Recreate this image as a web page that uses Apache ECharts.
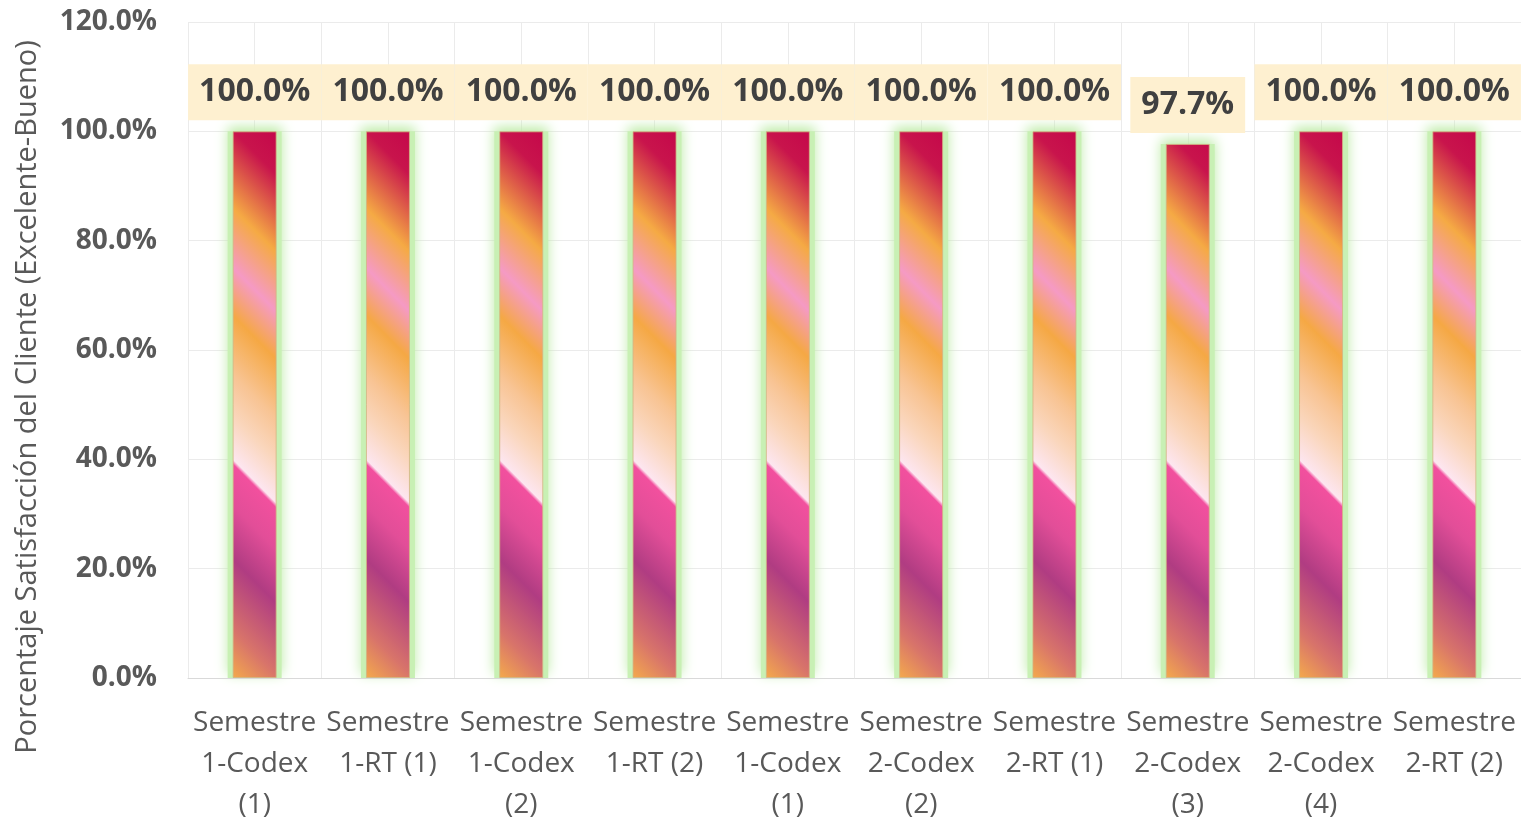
<!DOCTYPE html>
<html>
<head>
<meta charset="utf-8">
<script src="https://cdn.jsdelivr.net/npm/echarts@6/dist/echarts.min.js"></script>
<style>
html,body{margin:0;padding:0;background:#fff;overflow:hidden;}
#chart{width:1521px;height:826px;}
</style>
</head>
<body>
<div id="chart"></div>
<script>
const categories = [
  "Semestre\n1-Codex\n(1)",
  "Semestre\n1-RT (1)",
  "Semestre\n1-Codex\n(2)",
  "Semestre\n1-RT (2)",
  "Semestre\n1-Codex\n(1)",
  "Semestre\n2-Codex\n(2)",
  "Semestre\n2-RT (1)",
  "Semestre\n2-Codex\n(3)",
  "Semestre\n2-Codex\n(4)",
  "Semestre\n2-RT (2)"
];
const satisfaction = [100, 100, 100, 100, 100, 100, 100, 97.7, 100, 100];
const yTicks = { min: 0, max: 120, interval: 20 };
const yAxisTitle = "Porcentaje Satisfacción del Cliente (Excelente-Bueno)";

const FONT = "'Open Sans', 'Noto Sans', sans-serif";

// diagonal (~45°) gradient over a tall bar
const barGradient = new echarts.graphic.LinearGradient(0, 1, 6.76, 0.46, [
  { offset: 0.00, color: '#F4AA4C' },
  { offset: 0.08, color: '#D8746A' },
  { offset: 0.20, color: '#B03C82' },
  { offset: 0.29, color: '#E24E98' },
  { offset: 0.360, color: '#F2509E' },
  { offset: 0.368, color: '#FDE6F0' },
  { offset: 0.44, color: '#FAD6BC' },
  { offset: 0.51, color: '#F8C494' },
  { offset: 0.61, color: '#F5A844' },
  { offset: 0.69, color: '#F59AC4' },
  { offset: 0.79, color: '#F5AA44' },
  { offset: 0.92, color: '#C8144C' },
  { offset: 1.00, color: '#C4064A' }
]);

const chart = echarts.init(document.getElementById('chart'), null, { renderer: 'canvas' });
chart.setOption({
  animation: false,
  backgroundColor: '#ffffff',
  grid: { left: 188, width: 1333, top: 22, height: 662, containLabel: false },
  xAxis: [
    {
      type: 'category',
      data: categories,
      boundaryGap: true,
      axisLine: { show: true, lineStyle: { color: '#D9D9D9', width: 1 } },
      axisTick: { show: false },
      splitLine: { show: false },
      axisLabel: {
        interval: 0,
        hideOverlap: false,
        margin: 25,
        color: '#595959',
        fontFamily: FONT,
        fontSize: 28,
        lineHeight: 41,
        align: 'center'
      },
      z: 5
    },
    {
      type: 'value',
      min: 0, max: 20, interval: 1,
      position: 'bottom',
      axisLine: { show: false },
      axisTick: { show: false },
      axisLabel: { show: false },
      splitLine: { show: true, lineStyle: { color: '#EBEBEB', width: 1 } }
    },
    {
      type: 'category',
      data: categories,
      boundaryGap: true,
      show: false
    }
  ],
  yAxis: {
    type: 'value',
    min: yTicks.min, max: yTicks.max, interval: yTicks.interval,
    axisLine: { show: false },
    axisTick: { show: false },
    splitLine: { show: true, lineStyle: { color: '#EBEBEB', width: 1 } },
    axisLabel: {
      margin: 31,
      color: '#595959',
      fontFamily: FONT,
      fontWeight: 'bold',
      fontSize: 28,
      formatter: v => v.toFixed(1) + '%'
    }
  },
  graphic: [{
    type: 'text',
    x: 28, y: 397,
    rotation: Math.PI / 2,
    style: {
      text: yAxisTitle,
      fill: '#595959',
      font: '29px ' + FONT,
      align: 'center',
      verticalAlign: 'middle'
    }
  }],
  series: [
    {
      name: 'glow',
      type: 'bar',
      xAxisIndex: 2,
      data: satisfaction,
      barWidth: 54,
      silent: true,
      itemStyle: {
        color: '#C8F0B4',
        shadowColor: '#BDEBA6',
        shadowBlur: 12,
        shadowOffsetY: -4
      }
    },
    {
      type: 'bar',
      xAxisIndex: 0,
      data: satisfaction,
      barWidth: 44,
      itemStyle: {
        color: barGradient,
        borderColor: 'rgba(210,180,130,0.8)',
        borderWidth: 1
      },
      label: {
        show: true,
        position: 'top',
        distance: 11,
        formatter: p => p.value.toFixed(1) + '%',
        color: '#404040',
        fontFamily: FONT,
        fontWeight: 'bold',
        fontSize: 32,
        lineHeight: 32,
        backgroundColor: '#FEF0D0',
        padding: [12, 11, 12, 11]
      }
    }
  ]
});
</script>
</body>
</html>
